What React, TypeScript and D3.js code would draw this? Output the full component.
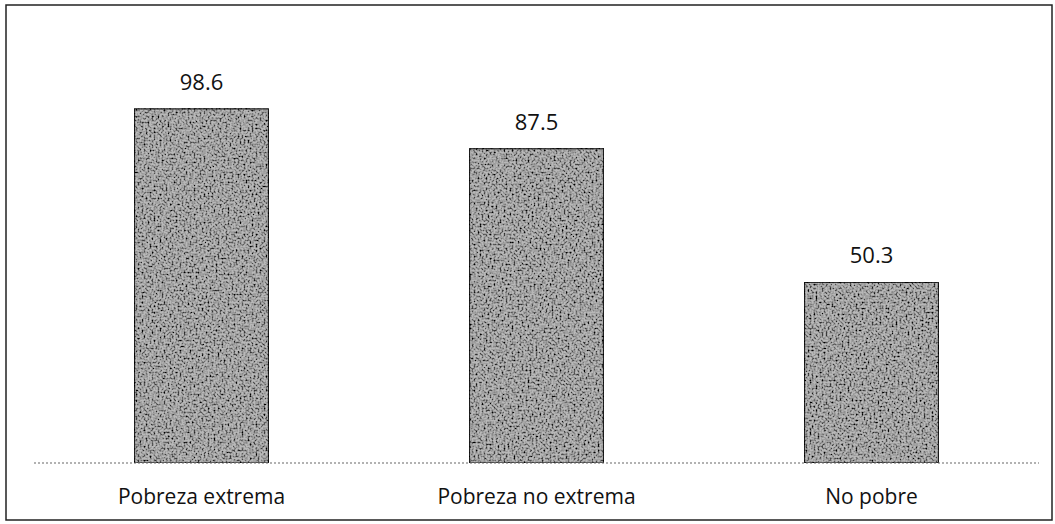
import * as d3 from "d3";
import React, { useRef, useEffect } from "react";

const categories = ["Pobreza extrema", "Pobreza no extrema", "No pobre"];
const values = [98.6, 87.5, 50.3];
const valueLabels = ["98.6", "87.5", "50.3"];

const W = 1055;
const H = 524;
const plot = { left: 34, right: 1039, top: 32, bottom: 463 };

const drawChart = (ref: any) => {
  const svg = d3.select(ref.current);
  svg.selectAll("*").remove();

  // speckled grey texture like the scanned print
  const defs = svg.append("defs");
  const f = defs
    .append("filter")
    .attr("id", "stipple")
    .attr("x", 0)
    .attr("y", 0)
    .attr("width", 1)
    .attr("height", 1);
  f.append("feTurbulence")
    .attr("type", "fractalNoise")
    .attr("baseFrequency", 0.5)
    .attr("numOctaves", 2)
    .attr("seed", 3)
    .attr("result", "noise");
  f.append("feColorMatrix")
    .attr("in", "noise")
    .attr("type", "matrix")
    .attr("values", "0 0 0 0 0  0 0 0 0 0  0 0 0 0 0  -3 0 0 0 1.75")
    .attr("result", "dots");
  f.append("feComposite")
    .attr("in", "dots")
    .attr("in2", "SourceGraphic")
    .attr("operator", "in")
    .attr("result", "clipped");
  const m = f.append("feMerge");
  m.append("feMergeNode").attr("in", "SourceGraphic");
  m.append("feMergeNode").attr("in", "clipped");

  // outer frame
  svg
    .append("rect")
    .attr("x", 6)
    .attr("y", 5)
    .attr("width", 1046)
    .attr("height", 515)
    .attr("fill", "none")
    .attr("stroke", "#222")
    .attr("stroke-width", 1.5);

  const x = d3
    .scaleBand()
    .domain(categories)
    .range([plot.left, plot.right])
    .paddingInner(0.6)
    .paddingOuter(0.3);
  const y = d3.scaleLinear().domain([0, 120]).range([plot.bottom, plot.top]);

  const g = svg.append("g");

  g.selectAll("rect.bar")
    .data(values)
    .enter()
    .append("rect")
    .attr("class", "bar")
    .attr("x", (d: any, i: number) => x(categories[i]))
    .attr("y", (d: any) => y(d))
    .attr("width", x.bandwidth())
    .attr("height", (d: any) => y(0) - y(d))
    .attr("fill", "#b8b8b8")
    .attr("stroke", "#222")
    .attr("stroke-width", 1.2)
    .attr("filter", "url(#stipple)");

  // baseline
  g.append("line")
    .attr("x1", plot.left)
    .attr("x2", plot.right)
    .attr("y1", y(0))
    .attr("y2", y(0))
    .attr("stroke", "#666")
    .attr("stroke-width", 1.2)
    .attr("stroke-dasharray", "2,2");

  g.selectAll("text.val")
    .data(values)
    .enter()
    .append("text")
    .attr("class", "val")
    .attr("x", (d: any, i: number) => (x(categories[i]) as number) + x.bandwidth() / 2)
    .attr("y", (d: any) => y(d) - 19)
    .attr("text-anchor", "middle")
    .attr("font-family", "'Open Sans', sans-serif")
    .attr("font-size", 22)
    .attr("fill", "#111")
    .text((d: any, i: number) => valueLabels[i]);

  const xAxis = g
    .append("g")
    .attr("transform", "translate(0," + y(0) + ")")
    .call(d3.axisBottom(x).tickSize(0).tickPadding(26));
  xAxis.select(".domain").remove();
  xAxis
    .selectAll("text")
    .attr("font-family", "'Open Sans', sans-serif")
    .attr("font-size", 21)
    .attr("fill", "#111");
};

function App() {
  const ref = useRef<any>();
  useEffect(() => {
    drawChart(ref);
  }, []);
  return (
    <svg
      ref={ref}
      width={W}
      height={H}
      style={{ position: "absolute", left: 0, top: 0, background: "#fff" }}
    ></svg>
  );
}

export default App;
